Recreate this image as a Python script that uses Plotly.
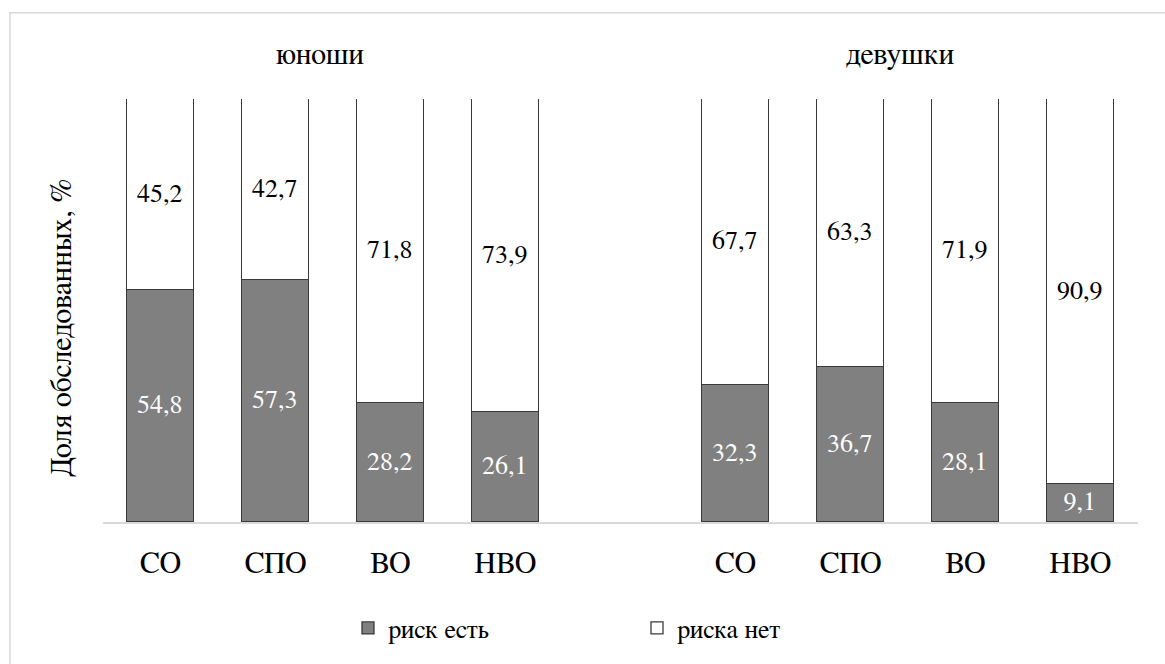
import plotly.graph_objects as go

# Education levels shown under each group
levels = ["СО", "СПО", "ВО", "НВО"]
groups = ["юноши", "девушки"]

# Share of respondents (%) per level, boys then girls
risk_boys = [54.8, 57.3, 28.2, 26.1]
norisk_boys = [45.2, 42.7, 71.8, 73.9]
risk_girls = [32.3, 36.7, 28.1, 9.1]
norisk_girls = [67.7, 63.3, 71.9, 90.9]

# x slots: four bars per group with one empty slot between groups
x_pos = [0, 1, 2, 3, 5, 6, 7, 8]
tick_text = levels + levels
risk = risk_boys + risk_girls
norisk = norisk_boys + norisk_girls

W, H = 1165, 664
L, R, T, B = 103, 27, 99, 138
plot_w = W - L - R
plot_h = H - T - B

def px_x(px):
    return (px - L) / plot_w

def px_y(py):
    return (H - B - py) / plot_h

FONT = "FreeSerif"
outline = dict(color="#3a3a3a", width=1.3)

fig = go.Figure()
fig.add_trace(go.Bar(
    x=x_pos, y=risk, name="риск есть", width=0.575,
    marker=dict(color="#808080", line=outline),
    texttemplate="%{y:.1f}", textposition="inside", insidetextanchor="middle",
    textangle=0, constraintext="none",
    insidetextfont=dict(family=FONT, size=26, color="white"),
    hoverinfo="skip",
))
fig.add_trace(go.Bar(
    x=x_pos, y=norisk, name="риска нет", width=0.575,
    marker=dict(color="white", line=outline),
    texttemplate="%{y:.1f}", textposition="inside", insidetextanchor="middle",
    textangle=0, constraintext="none",
    insidetextfont=dict(family=FONT, size=26, color="black"),
    hoverinfo="skip",
))

annotations = [
    dict(text=groups[0], x=px_x(320), y=px_y(55), xref="paper", yref="paper",
         xanchor="center", yanchor="middle",
         showarrow=False, font=dict(family=FONT, size=30, color="black")),
    dict(text=groups[1], x=px_x(900), y=px_y(55), xref="paper", yref="paper",
         xanchor="center", yanchor="middle",
         showarrow=False, font=dict(family=FONT, size=30, color="black")),
    dict(text="Доля обследованных, %", x=px_x(62), y=px_y(330),
         xref="paper", yref="paper", textangle=-90, showarrow=False,
         xanchor="center", yanchor="middle",
         font=dict(family=FONT, size=30, color="black")),
]

shapes = [
    # outer frame of the chart
    dict(type="rect", xref="paper", yref="paper",
         x0=px_x(10), x1=px_x(1180), y0=px_y(680), y1=px_y(12),
         line=dict(color="#d9d9d9", width=1.5), fillcolor="rgba(0,0,0,0)",
         layer="below"),
]

fig.update_layout(
    width=W, height=H,
    margin=dict(l=L, r=R, t=T, b=B, pad=0),
    paper_bgcolor="white", plot_bgcolor="white",
    barmode="stack", bargap=0,
    separators=", ",
    font=dict(family=FONT, color="black"),
    showlegend=True,
    legend=dict(orientation="h", x=px_x(348), y=px_y(633),
                xanchor="left", yanchor="middle",
                entrywidth=244, entrywidthmode="pixels",
                font=dict(family=FONT, size=26, color="black"),
                itemclick=False, itemdoubleclick=False,
                traceorder="normal"),
    xaxis=dict(range=[-0.5, 8.5], tickmode="array", tickvals=x_pos,
               ticktext=tick_text, showgrid=False, zeroline=False,
               showline=True, linecolor="#d9d9d9", linewidth=1.5,
               ticks="", ticklabelstandoff=13,
               tickfont=dict(family=FONT, size=30, color="black"),
               fixedrange=True),
    yaxis=dict(range=[0, 100], showgrid=False, zeroline=False,
               showline=False, showticklabels=False, ticks="",
               fixedrange=True),
    annotations=annotations,
    shapes=shapes,
)

fig.write_html("out.html")
